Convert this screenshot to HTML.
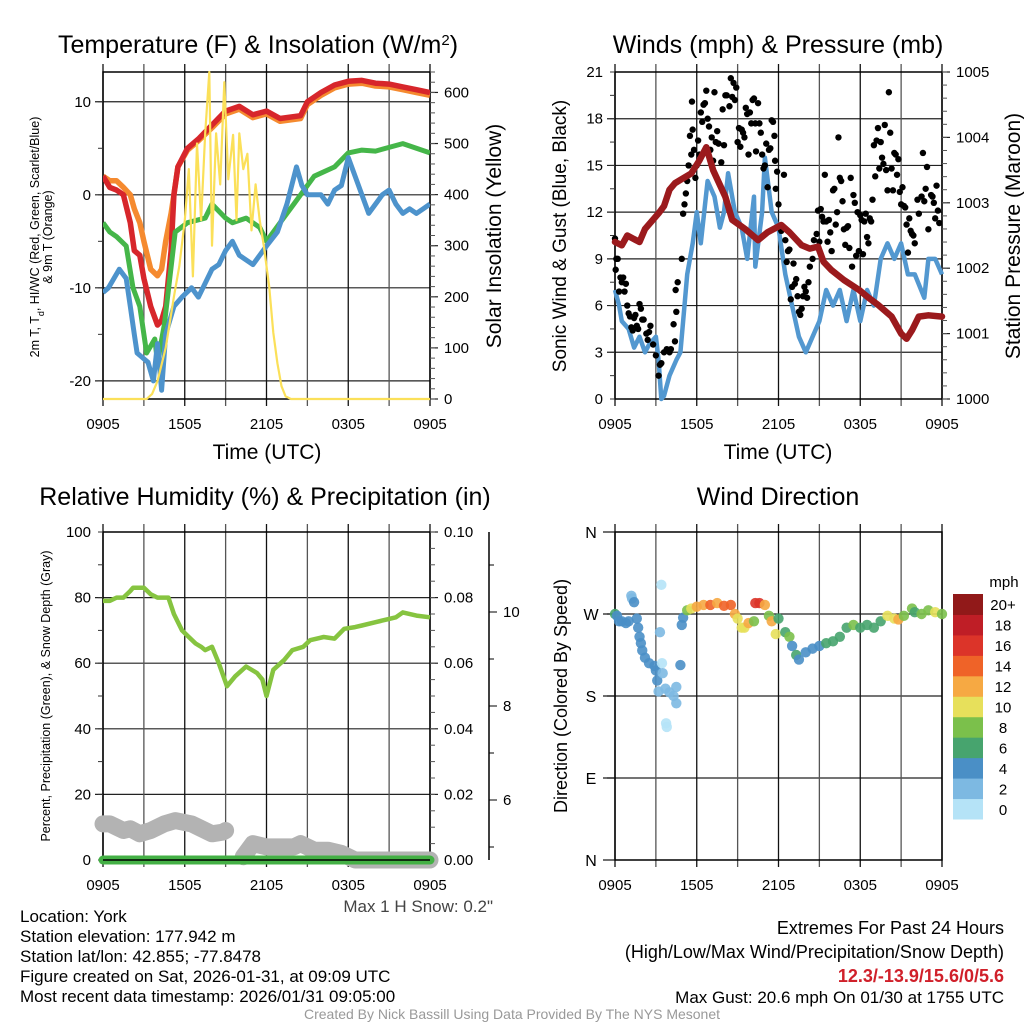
<!DOCTYPE html>
<html><head><meta charset="utf-8"><style>
html,body{margin:0;padding:0;background:#fff}
svg{display:block;font-family:"Liberation Sans",sans-serif}
</style></head><body>
<svg id="fig" width="1024" height="1024" viewBox="0 0 1024 1024" xmlns="http://www.w3.org/2000/svg">
<rect width="1024" height="1024" fill="#fff"/>
<g id="layer"></g>
</svg>
<script>
// ---------- DATA ----------
const timeTickLabels = ["0905","1505","2105","0305","0905"];
const tempT = [0,0.5,1,1.5,2,2.3,2.7,3,3.5,4,4.3,4.6,5,5.2,5.5,6.2,7,8,9,10,11,12,13,14.5,15,16,17,18,19,20,21,22,23,24];
const tempRed = [2,0.8,0.5,0,-3,-6,-6.5,-9,-12,-14,-13.5,-12,-6,0,3,5,6,7.5,9,9.5,8.6,9,8.2,8.5,10,11,11.8,12.2,12.3,12,11.9,11.6,11.3,11];
const tempOrange = [2,1.5,1.5,0.8,0,-1.5,-3,-5,-8,-8.7,-8,-5,-2,0,3,4.8,5.8,7.2,8.7,9.2,8.3,8.7,7.9,8.2,9.7,10.7,11.5,11.9,12,11.7,11.6,11.3,11,10.7];
const dewT = [0,0.5,1,1.7,2.2,2.7,3.2,3.8,4,4.5,5.3,6.2,7.5,8,9,9.5,10.5,11.5,12,13,14,14.5,15.5,17,18,19,20,22,24];
const dewGreen = [-3,-4,-4.5,-5.5,-10,-12,-17,-15.5,-18,-14,-4,-3,-2.5,-1,-2.5,-3,-2.5,-3.5,-5,-3,-1,0,2,3,4.5,4.8,4.7,5.5,4.5];
const wcT = [0,0.4,0.8,1.2,1.7,2,2.3,2.5,2.9,3.3,3.7,4,4.3,4.6,5.2,5.8,6.5,7,7.5,8,8.5,9,9.5,10,10.5,11,11.5,12,12.8,13.5,14.2,14.6,15,15.5,16,16.5,17,17.5,18,18.5,19,19.5,20,20.5,21,21.5,22,22.5,23,23.5,24];
const wcBlue = [-10.5,-10,-9,-8,-9,-12,-15,-17,-17.5,-18,-20,-16,-21,-15,-12,-11,-10,-11,-9.5,-8,-7.5,-6,-5,-6.5,-7,-7.5,-6.5,-5.5,-4,-1,3,1,0,0,0,-1,0.5,1,4,2,0,-2,-1,0,0.5,-1,-2,-1.5,-2,-1.5,-1];
const solarT = [0,3.2,3.6,4,4.6,5.2,5.6,6,6.3,6.6,6.9,7.2,7.5,7.8,8,8.3,8.6,8.9,9.2,9.55,9.8,10,10.3,10.6,10.9,11.2,11.5,11.8,12.2,12.5,12.8,13.1,13.4,13.8,24];
const solarW = [0,0,10,35,100,200,260,350,450,240,500,350,520,640,300,520,420,620,430,517,350,520,450,480,330,420,350,300,220,130,70,25,5,0,0];
const windT = [0,0.3,0.5,1,1.4,1.8,2.2,2.5,3,3.2,3.4,3.6,4,4.5,4.8,5.1,5.3,5.7,6,6.3,6.8,7.3,7.7,8,8.3,8.8,9.3,9.7,10.2,10.3,10.8,11,11.5,12,12.5,13,13.5,14,14.5,15,15.5,16,16.5,17,17.5,18,18.5,19,19.5,20,20.5,21,21.5,22,22.7,23,23.5,24];
const windSpd = [7,6,5,4.5,3.3,4,3,3.5,4,2.5,0,0.2,1.5,2.5,3,6,8,10,12,10,14,13,11,12,14.5,12,11,9,13,8.5,12,15.5,12,11,8,6,4,3,4,5,7,6,7,5,7,5,7,6,9,10,9,10,8,8,6.5,9,9,8];
const presT = [0,0.5,0.9,1.8,2.2,3.2,3.6,4,4.4,4.8,5.6,6.2,6.7,7.2,8.1,8.6,9.55,10.5,11.2,12.2,12.8,13.7,14.3,14.9,15.3,15.9,16.8,17.9,18.6,19.3,20.3,21,21.4,21.8,22.3,23,24];
const pressure = [1002.4,1002.35,1002.5,1002.4,1002.6,1002.84,1002.95,1003.2,1003.3,1003.35,1003.45,1003.65,1003.85,1003.5,1003.09,1002.74,1002.6,1002.43,1002.55,1002.66,1002.55,1002.35,1002.3,1002.33,1002.1,1001.97,1001.82,1001.67,1001.55,1001.44,1001.26,1001.0,1000.92,1001.05,1001.26,1001.28,1001.26];
const gustT = [0,0.05,0.1,0.2,0.3,0.4,0.5,0.6,0.7,0.8,0.9,1.0,1.1,1.2,1.3,1.4,1.5,1.6,1.7,1.8,1.9,2.0,2.1,2.3,2.4,2.5,2.6,2.8,3.0,3.2,3.3,3.4,3.6,3.8,4.0,4.1,4.3,4.4,4.5,4.45,4.6,4.9,5.0,5.1,5.2,5.3,5.4,5.5,5.6,5.7,5.65,5.8,5.9,6.0,6.1,6.2,6.3,6.4,6.5,6.6,6.7,6.8,6.9,7.0,7.1,7.2,7.3,7.4,7.5,7.6,7.8,7.9,8.0,8.1,8.2,8.4,8.5,8.6,8.7,8.8,8.9,9.0,9.1,9.2,9.3,9.4,9.5,9.6,9.7,9.8,9.9,10.0,10.1,10.2,10.3,10.35,10.5,10.6,10.7,10.8,10.9,11.0,11.1,11.2,11.3,11.4,11.5,11.6,11.7,11.75,11.8,11.9,12.0,12.1,12.2,12.4,12.5,12.6,12.7,12.8,12.9,13.0,13.1,13.2,13.3,13.4,13.5,13.6,13.7,13.8,13.9,14.0,14.1,14.2,14.3,14.5,14.6,14.8,14.9,15.0,15.1,15.2,15.3,15.4,15.5,15.6,15.7,15.8,15.9,16.0,16.1,16.2,16.3,16.4,16.5,16.6,16.7,16.8,16.9,17.0,17.1,17.2,17.3,17.4,17.5,17.6,17.7,17.8,17.9,18.0,18.1,18.2,18.3,18.4,18.5,18.6,18.7,18.8,18.9,19.0,19.1,19.2,19.3,19.4,19.5,19.6,19.7,19.8,19.9,20.0,20.1,20.2,20.3,20.4,20.5,20.6,20.7,20.8,20.9,21.0,21.1,21.2,21.3,21.4,21.5,21.6,21.7,21.8,21.9,22.0,22.2,22.3,22.5,22.6,22.7,22.8,22.9,23.0,23.2,23.3,23.4,23.5,23.6,23.7,23.8];
const gustSpd = [10.3,8.3,9,9,6.9,7.8,7.5,7.8,6.9,7.4,6,5.5,5.3,4.6,4.4,5.2,5.4,4.7,4.5,6.1,5.8,5.1,5.1,4.2,3.8,4.3,4.7,3.5,2.8,1.5,2.2,2.3,3,3.2,3.0,3.2,4.8,3.7,5.6,7,7.5,9,11.9,12.5,13.2,14,15,16.9,15.7,17.3,19.1,16,14.2,15,16.6,15.7,18.4,17.8,18.9,19,19.8,18,17.5,16,16.8,15.3,19.7,16.5,17.2,16.4,15.2,18.6,16.3,19.5,19.5,18.8,20.6,19.4,20.3,19.2,20,16.5,17.4,16.2,17.3,17.1,16.8,18.7,18.3,15.7,18.4,17.7,19.2,19.3,17.7,15.9,19,17.7,17.1,15.7,14.8,15,16.4,13.6,16,16.1,17.9,17.8,16.9,15.3,13.5,14.6,12.5,11,10.8,14.4,10.2,8.8,9.5,9.6,6.4,7.2,8.7,7.4,7.7,6.6,5.6,5.4,5.8,6.6,7.2,6.9,6.5,7.5,8.5,9,10.2,10.6,12.1,10.1,12.2,11.7,11.4,14.4,11.4,10.1,11.5,10.7,9.5,13.4,13.5,11.2,12.0,16.8,14.2,14.0,12.7,10.9,9.9,11,11.1,9.7,14.2,8.5,13.1,12.6,9.2,12,9.5,11.8,11.5,9.3,11.4,11.9,10.4,10,11.6,11.4,12.8,16.3,14.3,16.6,17.4,14.8,16.5,15.5,15.1,17.6,14.7,13.4,19.7,17.1,14.8,13.4,15.8,15.7,14.4,15.4,13.3,12.5,13.6,12.4,12.3,11.2,9.4,11.6,10.8,10.6,10.5,10.0,12.8,11.9,13,15.8,12.7,13.5,14.9,10.9,13.1,13,12.6,11.6,13.7,12.1,11.3];
const rhT = [0,0.5,1,1.5,2,2.2,2.6,3,3.5,4,4.5,4.8,5.2,5.8,6.3,6.8,7.2,7.5,8,8.5,9.1,9.7,10.5,11.3,11.7,12,12.5,13.3,13.9,14.7,15.2,16.2,17,17.7,18.5,19,20,21,21.5,22,23,24];
const rhVal = [79,79,80,80,82,83,83,83,81,80,80,80,75,70,68,66,65,64,65,60,53,56,59,57,55,50,58,61,64,65,67,68,67.5,70.5,71,71.5,72.5,73.5,74,75.5,74.5,74];
const snowT = [0,0.5,1,1.5,2,2.7,3.5,4.5,5.3,6.5,7,8,8.8,9,null,10.3,11,12,13,14,14.5,15.5,16.5,17.5,18.5,20,24];
const snowDepth = [11,11,10,9,9.5,8,9,11,12,11,10,8,8.5,9,null,1,5,4,4,4,5,3,3,2,0,0,0];
const precipT = [0,24];
const precipVal = [0,0];
const dirT = [0,0.15,0.3,0.5,0.8,1.0,1.2,1.25,1.4,1.6,1.7,1.8,1.9,2.0,2.2,2.5,2.9,3.0,3.1,3.2,3.3,3.4,3.45,3.5,3.7,3.75,3.8,4.0,4.3,4.5,4.5,4.8,4.9,5.0,5.3,5.6,6.0,6.5,7.0,7.5,8.0,8.5,8.8,9.0,9.3,9.5,9.8,10.2,10.3,10.6,11.0,11.3,11.5,11.8,12.0,12.5,12.8,13.0,13.3,13.5,14.0,14.5,15.0,15.5,16.0,16.5,17.0,17.5,18.0,18.5,19.0,19.5,20.0,20.5,20.8,21.2,21.8,22.0,22.5,23.0,23.5,24];
const dirDeg = [270,268,262,262,260,262,290,287,283,265,255,245,238,230,222,216,213,208,197,185,250,302,216,205,188,150,146,184,180,172,190,214,258,266,274,276,278,280,280,282,279,280,270,265,255,255,260,262,282,282,280,268,262,248,265,250,245,235,225,220,228,232,235,238,240,245,255,258,255,258,255,262,268,265,264,268,276,272,270,274,272,270];
const dirSpd = [6,5,4,4,4,4,3,2,4,4,4,4,4,4,4,4,4,4,4,2,2,1,1,2,2,1,0,2,2,2,3,4,4,5,8,10,12,12,14,13,14,15,12,10,10,10,12,9,16,16,13,9,12,10,7,7,8,5,6,4,4,4,4,6,6,7,7,8,6,7,6,7,10,10,12,9,9,7,8,9,10,8];
const cbLabels = ["0","2","4","6","8","10","12","14","16","18","20+"];
const cbColors = ["#b5e3f7","#7db9e2","#4a8fc6","#47a46e","#7bc04b","#e7e05b","#f6a943","#ef6328","#dc3429","#bf1e26","#911919"];

// ---------- HELPERS ----------
const NS = "http://www.w3.org/2000/svg";
const layer = document.getElementById("layer");
function mk(tag, attrs, parent){const e=document.createElementNS(NS,tag);for(const k in attrs)e.setAttribute(k,attrs[k]);(parent||layer).appendChild(e);return e;}
function txt(s, x, y, size, anchor, parent, extra){const e=mk("text",Object.assign({x:x,y:y,"font-size":size,"text-anchor":anchor||"middle",fill:"#000"},extra||{}),parent);e.textContent=s;return e;}
function panel(x0,x1,y0,y1){return {x:t=>x0+t/24*(x1-x0),x0,x1,y0,y1};}
function scale(y0,y1,v0,v1){return v=>y1-(v-v0)/(v1-v0)*(y1-y0);}
function linePath(ts,vs,xf,yf){let d="",pen=false;for(let i=0;i<ts.length;i++){if(vs[i]===null){pen=false;continue;}d+=(pen?"L":"M")+xf(ts[i]).toFixed(1)+","+yf(vs[i]).toFixed(1);pen=true;}return d;}
function frame(p,g){
  for(let h=0;h<=24;h+=3){const X=p.x(h);
    const l=mk("line",{x1:X,x2:X,y1:p.y0-8,y2:p.y1+7,stroke:(h%6===0)?"#111":"#555","stroke-width":1.3},g);
    
    }
  timeTickLabels.forEach((s,i)=>{const e=txt(s,p.x(i*6),p.y1+30,15,"middle",g);
    
    });
  const r=mk("rect",{x:p.x0,y:p.y0,width:p.x1-p.x0,height:p.y1-p.y0,fill:"none",stroke:"#000","stroke-width":1.5},g);
  
  
}
function hgrid(p,yf,vals,g){vals.forEach(v=>{const Y=yf(v);mk("line",{x1:p.x0-8,x2:p.x1,y1:Y,y2:Y,stroke:"#222","stroke-width":1.2},g);});}
function leftTicks(p,yf,majors,minors,fmt,g){
  majors.forEach(v=>{const e=txt(fmt(v),p.x0-12,yf(v)+5,15,"end",g);});
  minors.forEach(v=>mk("line",{x1:p.x0-5,x2:p.x0,y1:yf(v),y2:yf(v),stroke:"#333","stroke-width":1},g));
}
function rightTicks(p,yf,majors,minors,fmt,g){
  majors.forEach(v=>{mk("line",{x1:p.x1,x2:p.x1+8,y1:yf(v),y2:yf(v),stroke:"#222","stroke-width":1.2},g);
    const e=txt(fmt(v),p.x1+14,yf(v)+5,15,"start",g);});
  minors.forEach(v=>mk("line",{x1:p.x1,x2:p.x1+5,y1:yf(v),y2:yf(v),stroke:"#555","stroke-width":1},g));
}
function range(a,b,s){const r=[];for(let v=a;v<=b+1e-9;v+=s)r.push(+v.toFixed(4));return r;}

// ---------- PANEL 1: Temperature ----------
{
const g=mk("g",{});


const p=panel(103,430,72,399);
const yT=scale(72,399,-21.95,13.2), yS=scale(72,399,0,640);
hgrid(p,yT,[-20,-10,0,10],g);
frame(p,g);
leftTicks(p,yT,[-20,-10,0,10],[-20,-15,-10,-5,0,5,10],v=>String(v),g);
rightTicks(p,yS,[0,100,200,300,400,500,600],range(0,640,20),v=>String(v),g);
const t=txt("Temperature (F) & Insolation (W/m",258,53,25,"middle",g);
const sup=mk("tspan",{"baseline-shift":"super","font-size":15},t);sup.textContent="2";
const cl=mk("tspan",{},t);cl.textContent=")";

const xl=txt("Time (UTC)",267,459,21,"middle",g);
const yl=mk("text",{x:0,y:0,"font-size":12.5,"text-anchor":"middle",transform:"translate(39,237) rotate(-90)"},g);
yl.innerHTML='2m T, T<tspan baseline-shift="sub" font-size="9">d</tspan>, HI/WC (Red, Green, Scarlet/Blue)';

const yl2=txt("& 9m T (Orange)",0,0,12.5,"middle",g,{transform:"translate(52,237) rotate(-90)"});

const yr=txt("Solar Insolation (Yellow)",0,0,21,"middle",g,{transform:"translate(501,236) rotate(-90)"});

const cp=mk("clipPath",{id:"c1"},g);mk("rect",{x:103,y:72,width:327,height:327},cp);
const sg=mk("g",{"clip-path":"url(#c1)"},g);
const s1=mk("path",{d:linePath(tempT,tempOrange,p.x,yT),fill:"none",stroke:"#f58a2f","stroke-width":5.5,"stroke-linejoin":"round"},sg);

const s2=mk("path",{d:linePath(tempT,tempRed,p.x,yT),fill:"none",stroke:"#d7262b","stroke-width":5.5,"stroke-linejoin":"round"},sg);

const s3=mk("path",{d:linePath(dewT,dewGreen,p.x,yT),fill:"none",stroke:"#45b649","stroke-width":5,"stroke-linejoin":"round"},sg);

const s4=mk("path",{d:linePath(wcT,wcBlue,p.x,yT),fill:"none",stroke:"#4d93cc","stroke-width":5,"stroke-linejoin":"round"},sg);

const s5=mk("path",{d:linePath(solarT,solarW,p.x,yS),fill:"none",stroke:"#fbe059","stroke-width":2.2,"stroke-linejoin":"round"},g);

}

// ---------- PANEL 2: Winds ----------
{
const g=mk("g",{});


const p=panel(615,942,72,399);
const yW=scale(72,399,0,21), yP=scale(72,399,1000,1005);
hgrid(p,yW,range(3,18,3),g);
frame(p,g);
leftTicks(p,yW,range(0,21,3),range(0,21,1.5),v=>String(v),g);
rightTicks(p,yP,range(1000,1005,1),range(1000,1005,0.2),v=>String(v),g);
const t=txt("Winds (mph) & Pressure (mb)",778,53,25,"middle",g);
const xl=txt("Time (UTC)",778,459,21,"middle",g);
const yl=txt("Sonic Wind & Gust (Blue, Black)",0,0,19,"middle",g,{transform:"translate(566,236) rotate(-90)"});

const yr=txt("Station Pressure (Maroon)",0,0,21,"middle",g,{transform:"translate(1020,236) rotate(-90)"});

const w=mk("path",{d:linePath(windT,windSpd,p.x,yW),fill:"none",stroke:"#5398d0","stroke-width":4.5,"stroke-linejoin":"round"},g);

gustT.forEach((tt,i)=>{const c=mk("circle",{cx:p.x(tt),cy:yW(gustSpd[i]),r:3.2,fill:"#000"},g);
  
  });
const pr=mk("path",{d:linePath(presT,pressure,p.x,yP),fill:"none",stroke:"#9b1a1d","stroke-width":6.5,"stroke-linejoin":"round","stroke-linecap":"round"},g);

}

// ---------- PANEL 3: RH ----------
{
const g=mk("g",{});


const p=panel(103,430,532,860);
const yR=scale(532,860,0,100), yPr=scale(532,860,0,0.1);
hgrid(p,yR,[20,40,60,80],g);
frame(p,g);
leftTicks(p,yR,range(0,100,20),range(0,100,10),v=>String(v),g);
rightTicks(p,yPr,range(0,0.1,0.02),range(0,0.1,0.005),v=>v.toFixed(2),g);
const ax=mk("line",{x1:489,x2:489,y1:532,y2:860,stroke:"#000","stroke-width":1.5},g);

const ySn=v=>800-(v-6)*47;
[5,6,7,8,9,10,11,12].forEach(v=>{const Y=ySn(v);if(Y>=532&&Y<=860)mk("line",{x1:489,x2:489+(v%2===0?8:5),y1:Y,y2:Y,stroke:"#000","stroke-width":1},g);});
[6,8,10].forEach(v=>{const e=txt(String(v),503,ySn(v)+5,15,"start",g);});
const t=txt("Relative Humidity (%) & Precipitation (in)",265,505,25,"middle",g);
const yl=txt("Percent, Precipitation (Green), & Snow Depth (Gray)",0,0,12.5,"middle",g,{transform:"translate(50,696) rotate(-90)"});

const sn=mk("path",{d:linePath(snowT,snowDepth,p.x,yR),fill:"none",stroke:"#b3b3b3","stroke-width":17,"stroke-linejoin":"round","stroke-linecap":"round"},g);

const pc=mk("path",{d:linePath(precipT,precipVal,p.x,yPr),fill:"none",stroke:"#44b045","stroke-width":9,"stroke-linecap":"round"},g);

mk("line",{x1:103,x2:430,y1:860,y2:860,stroke:"#000","stroke-width":1.5},g);
const rh=mk("path",{d:linePath(rhT,rhVal,p.x,yR),fill:"none",stroke:"#86c440","stroke-width":4.5,"stroke-linejoin":"round"},g);

const ms=txt('Max 1 H Snow: 0.2"',493,912,17,"end",g,{fill:"#444"});

}

// ---------- PANEL 4: Wind Direction ----------
{
const g=mk("g",{});


const p=panel(615,942,532,860);
const yD=scale(532,860,0,360);
hgrid(p,yD,[90,180,270],g);
frame(p,g);
[[360,"N"],[270,"W"],[180,"S"],[90,"E"],[0,"N"]].forEach(a=>{mk("line",{x1:p.x0-12,x2:p.x0,y1:yD(a[0]),y2:yD(a[0]),stroke:"#111","stroke-width":1.2},g);
  const e=txt(a[1],591,yD(a[0])+6,16,"middle",g);});
const t=txt("Wind Direction",778,505,25,"middle",g);
const yl=txt("Direction (Colored By Speed)",0,0,18,"middle",g,{transform:"translate(567,696) rotate(-90)"});

dirT.forEach((tt,i)=>{const idx=Math.min(10,Math.floor(dirSpd[i]/2));
  const c=mk("circle",{cx:p.x(tt),cy:yD(dirDeg[i]),r:5.2,fill:cbColors[idx],"fill-opacity":0.9},g);
  
  });
const mph=txt("mph",1004,587,15,"middle",g);
const bh=(819-594)/cbColors.length;
cbColors.forEach((c,i)=>{const top=819-(i+1)*bh;
  const r=mk("rect",{x:953,y:top,width:30,height:bh+0.5,fill:c},g);
  
  
  const e=txt(cbLabels[i],1003,top+bh/2+6,15,"middle",g);
  
  });
}

// ---------- FOOTER ----------
{
const g=mk("g",{});


["Location: York","Station elevation: 177.942 m","Station lat/lon: 42.855; -77.8478","Figure created on Sat, 2026-01-31, at 09:09 UTC","Most recent data timestamp: 2026/01/31 09:05:00"].forEach((s,i)=>{
  const e=txt(s,20,922+i*20,17,"start",g);});
const r1=txt("Extremes For Past 24 Hours",1004,934,18,"end",g);
const r2=txt("(High/Low/Max Wind/Precipitation/Snow Depth)",1004,958,18,"end",g);
const r3=txt("12.3/-13.9/15.6/0/5.6",1004,982,18,"end",g,{fill:"#d0202a","font-weight":"bold"});
const r4=txt("Max Gust: 20.6 mph On 01/30 at 1755 UTC",1004,1003,17,"end",g);
const cr=txt("Created By Nick Bassill Using Data Provided By The NYS Mesonet",512,1019,14,"middle",g,{fill:"#999"});
}
</script>
</body></html>
